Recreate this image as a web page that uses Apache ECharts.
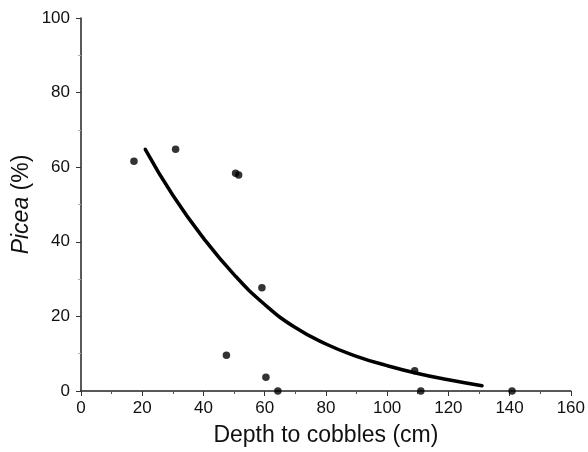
<!DOCTYPE html>
<html>
<head>
<meta charset="utf-8">
<script src="https://cdn.jsdelivr.net/npm/echarts@6/dist/echarts.min.js"></script>
<style>
  html, body { margin: 0; padding: 0; background: #fff; }
  #chart { width: 588px; height: 452px; }
</style>
</head>
<body>
<div id="chart"></div>
<script>
// observed samples: depth to cobbles (cm) vs Picea (%)
const depth = [17.3, 30.9, 50.5, 51.5, 59.1, 47.5, 60.4, 64.3, 109, 111, 140.8];
const picea = [61.6, 64.8, 58.4, 57.9, 27.7, 9.6, 3.7, 0, 5.4, 0, 0];

// fitted curve
const curveX = [21, 30, 40, 50, 60, 70, 80, 90, 100, 110, 120, 131];
const curveY = [64.8, 52.5, 41, 31.2, 23.2, 17.0, 12.6, 9.3, 6.8, 4.7, 3.0, 1.4];

const font = 'Helvetica, Arial, "Liberation Sans", sans-serif';
const chart = echarts.init(document.getElementById('chart'));

chart.setOption({
  animation: false,
  grid: { left: 81, right: 16, top: 18, bottom: 58 },
  xAxis: {
    type: 'value',
    min: 0, max: 160, interval: 20,
    name: 'Depth to cobbles (cm)',
    nameLocation: 'middle',
    nameGap: 33,
    nameMoveOverlap: false,
    nameTextStyle: { fontFamily: font, fontSize: 23, color: '#111' },
    axisLine: { lineStyle: { color: '#222', width: 1.5 } },
    axisTick: { length: 5, lineStyle: { color: '#333' } },
    minorTick: { show: true, splitNumber: 2, length: 3, lineStyle: { color: '#555' } },
    axisLabel: { fontFamily: font, fontSize: 17, color: '#111', margin: 9 },
    splitLine: { show: false }
  },
  yAxis: {
    type: 'value',
    min: 0, max: 100, interval: 20,
    name: '{i|Picea} (%)',
    nameLocation: 'middle',
    nameGap: 48,
    nameMoveOverlap: false,
    nameTextStyle: {
      fontFamily: font, fontSize: 23, color: '#111',
      rich: { i: { fontFamily: font, fontSize: 23, fontStyle: 'italic', color: '#111' } }
    },
    axisLine: { show: true, lineStyle: { color: '#222', width: 1.5 } },
    axisTick: { show: true, length: 5, lineStyle: { color: '#333' } },
    minorTick: { show: true, splitNumber: 2, length: 3, lineStyle: { color: '#aaa' } },
    axisLabel: { fontFamily: font, fontSize: 17, color: '#111', margin: 11 },
    splitLine: { show: false }
  },
  series: [
    {
      type: 'line',
      data: curveX.map((x, i) => [x, curveY[i]]),
      smooth: 0.5,
      showSymbol: false,
      lineStyle: { color: '#000', width: 3.5, cap: 'round' },
      z: 2
    },
    {
      type: 'scatter',
      data: depth.map((x, i) => [x, picea[i]]),
      symbol: 'circle',
      symbolSize: 7.5,
      itemStyle: { color: '#000' },
      z: 3
    }
  ]
});
</script>
</body>
</html>
